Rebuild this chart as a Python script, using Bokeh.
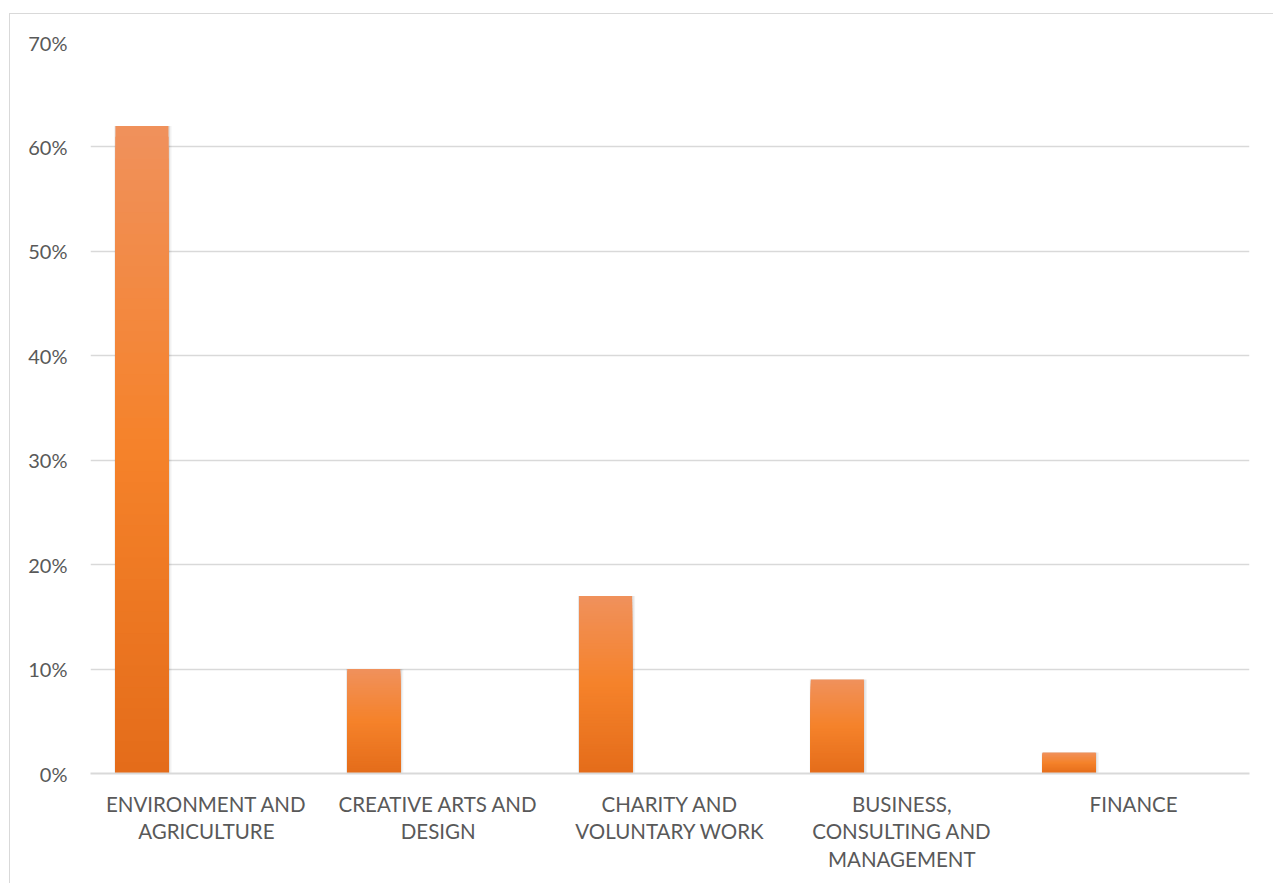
from bokeh.plotting import figure
from bokeh.models import FactorRange, NumeralTickFormatter, FixedTicker, ColumnDataSource
from bokeh.transform import dodge
from bokeh.embed import file_html
from bokeh.resources import INLINE

categories = ["ENVIRONMENT AND\nAGRICULTURE", "CREATIVE ARTS AND\nDESIGN",
              "CHARITY AND\nVOLUNTARY WORK", "BUSINESS,\nCONSULTING AND\nMANAGEMENT",
              "FINANCE"]
values = [0.62, 0.10, 0.17, 0.09, 0.02]
y_ticks = [0.0, 0.1, 0.2, 0.3, 0.4, 0.5, 0.6, 0.7]

TEXT = "#595959"
GRID = "#d9d9d9"
FONT = "Lato"

# gradient stops (fraction of bar height from bottom, colour)
stops = [(0.0, (228, 108, 26)), (0.5, (245, 130, 42)), (1.0, (240, 145, 92))]


def grad(t):
    for (t0, c0), (t1, c1) in zip(stops[:-1], stops[1:]):
        if t <= t1:
            f = (t - t0) / (t1 - t0)
            return "#%02x%02x%02x" % tuple(int(round(a + (b - a) * f)) for a, b in zip(c0, c1))
    return "#%02x%02x%02x" % stops[-1][1]


N = 60
seg = dict(cat=[], top=[], color=[])
for i in range(N, 0, -1):          # tallest first, shorter ones painted over
    for c, v in zip(categories, values):
        seg["cat"].append(c)
        seg["top"].append(v * i / N)
        seg["color"].append(grad((i - 0.5) / N))
seg_src = ColumnDataSource(seg)
bar_src = ColumnDataSource(dict(cat=categories, value=values))

p = figure(x_range=FactorRange(*categories, range_padding=0),
           y_range=(0, 0.7),
           frame_width=1159, frame_height=731,
           min_border_left=80, min_border_top=28, min_border_right=24, min_border_bottom=110,
           output_backend="svg", toolbar_location=None)
p.x_range.range_padding = 0
p.styles = {"margin-top": "13px", "margin-left": "9px",
            "border-top": "1px solid #d9d9d9", "border-left": "1px solid #d9d9d9"}

p.outline_line_color = None
p.background_fill_color = "white"
p.border_fill_color = "white"

BW = 0.229
OFF = -0.278
# soft shadow
p.vbar(x=dodge("cat", OFF + 0.004, range=p.x_range), width=BW + 0.018, bottom=-0.004, top="value",
       source=bar_src, fill_color="black", fill_alpha=0.05, line_color=None)
p.vbar(x=dodge("cat", OFF + 0.002, range=p.x_range), width=BW + 0.009, bottom=-0.002, top="value",
       source=bar_src, fill_color="black", fill_alpha=0.08, line_color=None)
p.vbar(x=dodge("cat", OFF, range=p.x_range), width=BW, bottom=0, top="top",
       source=seg_src, fill_color="color", line_color=None)

p.xgrid.grid_line_color = None
p.ygrid.grid_line_color = GRID
p.ygrid.grid_line_width = 1.5
p.ygrid.ticker = FixedTicker(ticks=y_ticks)

p.yaxis.ticker = FixedTicker(ticks=y_ticks)
p.yaxis.formatter = NumeralTickFormatter(format="0%")
p.yaxis.axis_line_color = None
p.yaxis.major_tick_line_color = None
p.yaxis.minor_tick_line_color = None
p.yaxis.major_label_standoff = 17
p.yaxis.major_label_text_font = FONT
p.yaxis.major_label_text_font_size = "20px"
p.yaxis.major_label_text_color = TEXT

p.xaxis.axis_line_color = GRID
p.xaxis.axis_line_width = 2
p.xaxis.major_tick_line_color = None
p.xaxis.minor_tick_line_color = None
p.xaxis.major_label_standoff = 12
p.xaxis.major_label_text_font = FONT
p.xaxis.major_label_text_font_size = "20.5px"
p.xaxis.major_label_text_color = TEXT
p.xaxis.major_label_text_line_height = 1.15

open("out.html", "w").write(file_html(p, INLINE))
